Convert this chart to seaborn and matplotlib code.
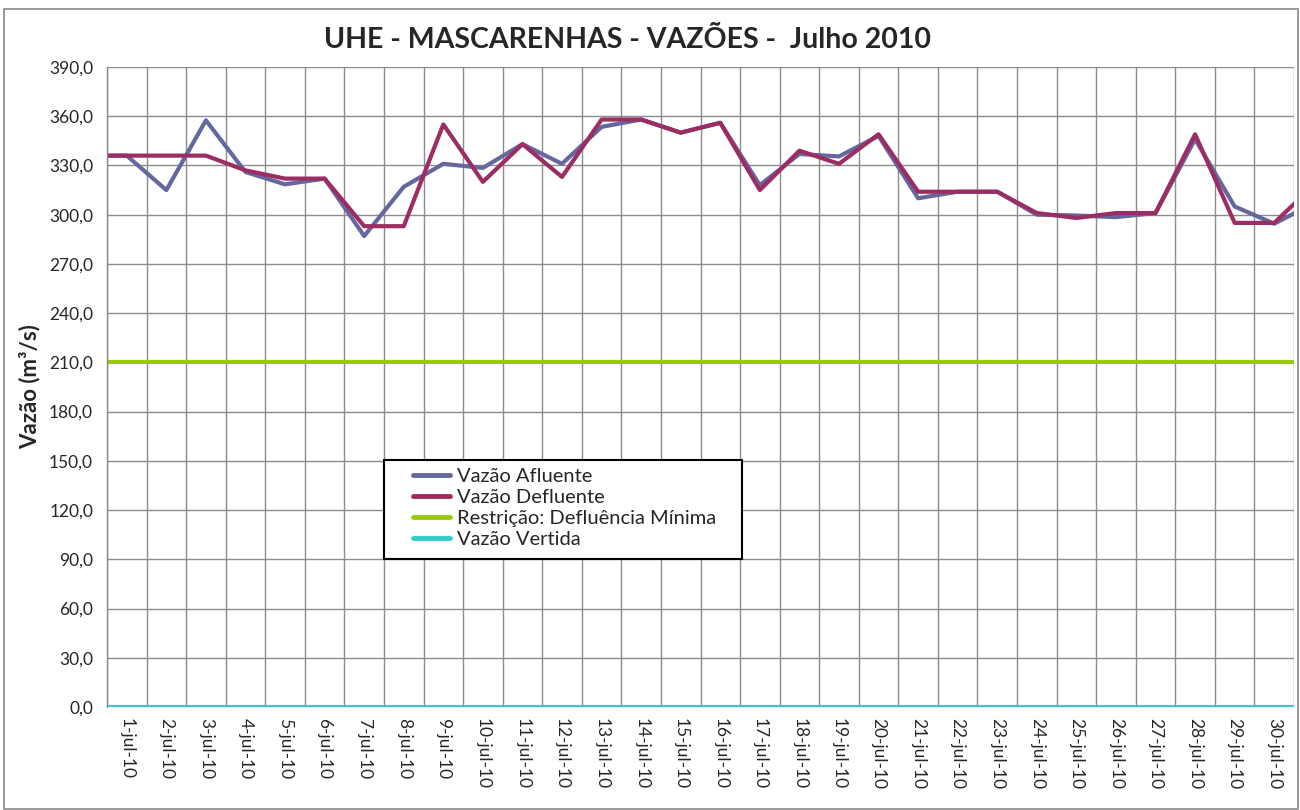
import numpy as np
import pandas as pd
import seaborn as sns
import matplotlib.pyplot as plt
from matplotlib.patches import Rectangle
from matplotlib.ticker import FixedLocator, FixedFormatter

# day index 0 = 30-jun, 1..31 = jul (outer points clipped by the axis limits)
days = list(range(0, 32))
day_labels = [f"{d}-jul-10" for d in range(1, 31)]

afluente = [336, 336, 315, 357.5, 326, 318.5, 322, 287, 317, 331, 328.5,
            343, 331, 353.5, 358, 350, 356, 318, 337, 335.5, 348,
            310, 314, 314, 300, 299.5, 298.5, 301, 346, 305, 294.5, 307]
defluente = [336, 336, 336, 336, 327, 322, 322, 293, 293, 355, 320,
             343, 323, 358, 358, 350, 356, 315, 339, 331, 349,
             314, 314, 314, 301, 298, 301, 301, 349, 295, 295, 318]
restricao = [210] * 32
vertida = [0] * 32

series_names = ["Vazão Afluente", "Vazão Defluente",
                "Restrição: Defluência Mínima", "Vazão Vertida"]
colors = ["#65679F", "#9B2D62", "#99CC00", "#33CCCC"]

df = pd.DataFrame({"dia": days,
                   series_names[0]: afluente,
                   series_names[1]: defluente,
                   series_names[2]: restricao,
                   series_names[3]: vertida})
long = df.melt(id_vars="dia", var_name="serie", value_name="vazao")

sns.set_style("white")
plt.rcParams['font.family'] = ['Lato', 'DejaVu Sans']

W, H = 1300, 810
fig = plt.figure(figsize=(13, 8.1), dpi=100)
ax = fig.add_axes([107 / W, 1 - 707 / H, (1294 - 107) / W, (707 - 67) / H])

sns.lineplot(data=long, x="dia", y="vazao", hue="serie", hue_order=series_names,
             palette=colors, linewidth=3, ax=ax)

ax.set_xlim(0.5, 30.5)
ax.set_ylim(0, 390)
ax.set_yticks(np.arange(0, 391, 30))
ax.set_yticklabels([f"{v:.1f}".replace(".", ",") for v in np.arange(0, 391, 30)])

# gridlines / tick marks at day boundaries, labels centred on the days
ax.xaxis.set_major_locator(FixedLocator(np.arange(0.5, 31, 1)))
ax.xaxis.set_major_formatter(FixedFormatter([""] * 31))
ax.xaxis.set_minor_locator(FixedLocator(np.arange(1, 31)))
ax.xaxis.set_minor_formatter(FixedFormatter(day_labels))
ax.tick_params(axis="x", which="minor", length=0, rotation=270, labelsize=12.5, pad=8)
ax.tick_params(axis="x", which="major", length=6, color="#888888", direction="out")
ax.tick_params(axis="y", length=6, color="#888888", direction="out", labelsize=12.5, pad=4)
for lab in ax.get_xticklabels(minor=True):
    lab.set_verticalalignment("top")
    lab.set_horizontalalignment("center")

ax.grid(True, which="major", color="#8C8C8C", linewidth=1)
ax.set_axisbelow(True)
for side in ["top", "right", "bottom"]:
    ax.spines[side].set_visible(False)
ax.spines["left"].set_color("#888888")
ax.spines["left"].set_linewidth(1)

ax.set_xlabel("")
ax.set_ylabel("Vazão (m³/s)", fontsize=16, fontweight="bold", labelpad=6)
fig.text(628 / W, 1 - 40 / H, "UHE - MASCARENHAS - VAZÕES -  Julho 2010",
         ha="center", va="center", fontsize=20.5, fontweight="bold")

# legend without its own frame; the box is drawn separately
leg = ax.legend(loc="upper left", bbox_to_anchor=(413 / W, 1 - 468 / H),
                bbox_transform=fig.transFigure, fontsize=14.5, frameon=False,
                handlelength=1.85, labelspacing=0.2, borderpad=0,
                handletextpad=0.35, borderaxespad=0)
for line in leg.get_lines():
    line.set_linewidth(3.5)
fig.patches.append(Rectangle((384 / W, 1 - 559 / H), (742 - 384) / W, (559 - 460) / H,
                             transform=fig.transFigure, fill=True, facecolor="white",
                             edgecolor="black", linewidth=1.5, zorder=4))
leg.set_zorder(5)
fig.legends.append(leg)
ax.get_legend().remove()

fig.patches.append(Rectangle((4 / W, 1 / H), 1294 / W, 800 / H,
                             transform=fig.transFigure, fill=False,
                             edgecolor="#888888", linewidth=1.2))

fig.savefig("out.png", dpi=100)
plt.close(fig)
